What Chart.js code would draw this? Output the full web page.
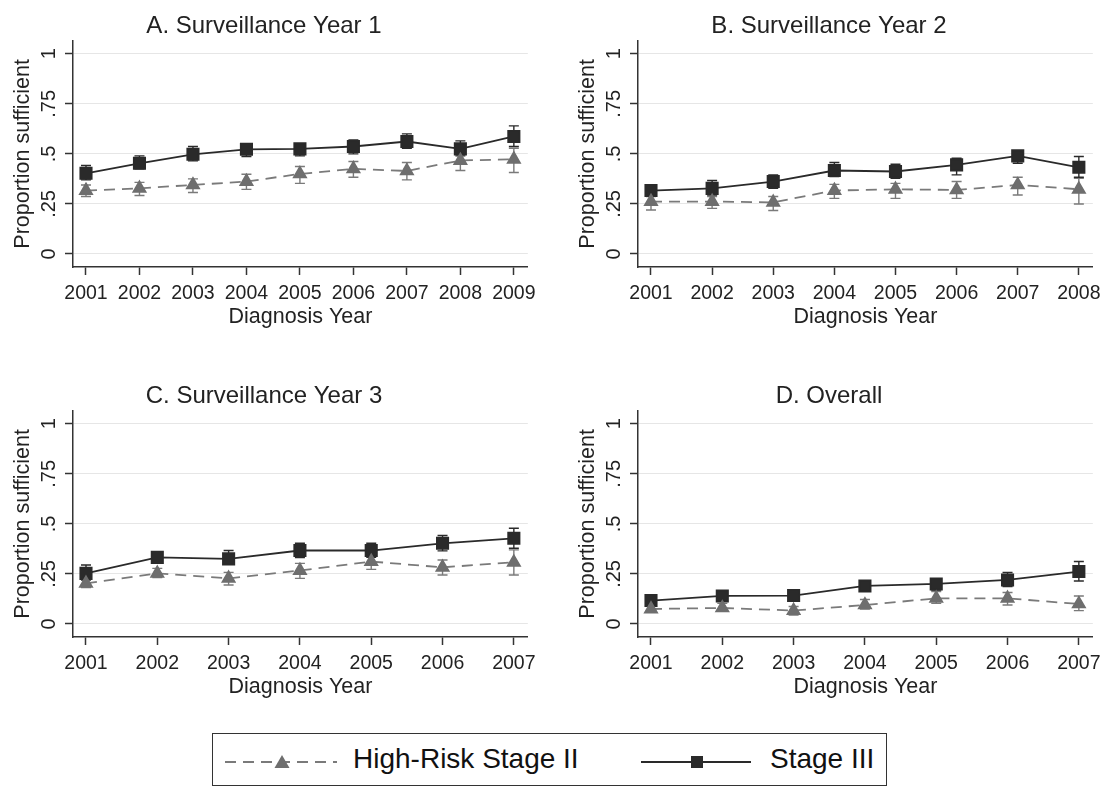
<!DOCTYPE html>
<html>
<head>
<meta charset="utf-8">
<script src="https://cdn.jsdelivr.net/npm/chart.js@4.4.0/dist/chart.umd.min.js"></script>
<style>
  body { margin: 0; background: #fff; width: 1108px; height: 786px; position: relative; overflow: hidden;
         font-family: "Liberation Sans", Arial, sans-serif; }
  canvas { position: absolute; }
  #legend { position: absolute; left: 212px; top: 733px; width: 675px; height: 53px; box-sizing: border-box;
            border: 1.5px solid #333; background: #fff; }
  #legend svg, #legend span { position: absolute; }
  #legend span { font-size: 28px; color: #111; line-height: 1; top: 11px; }
</style>
</head>
<body>
<canvas id="panelA" width="543" height="370" style="left:0;top:0"></canvas>
<canvas id="panelB" width="543" height="370" style="left:565px;top:0"></canvas>
<canvas id="panelC" width="543" height="370" style="left:0;top:370px"></canvas>
<canvas id="panelD" width="543" height="370" style="left:565px;top:370px"></canvas>
<div id="legend">
  <svg width="114" height="24" style="left:12px;top:16px">
    <line x1="0" y1="12" x2="112" y2="12" stroke="#7a7a7a" stroke-width="2" stroke-dasharray="11 7"/>
    <polygon points="57,5 64.5,18 49.5,18" fill="#6e6e6e"/>
  </svg>
  <span style="left:140px">High-Risk Stage II</span>
  <svg width="114" height="24" style="left:428px;top:16px">
    <line x1="0" y1="12" x2="110" y2="12" stroke="#2a2a2a" stroke-width="2"/>
    <rect x="50" y="6" width="12" height="12" fill="#2a2a2a"/>
  </svg>
  <span style="left:557px">Stage III</span>
</div>
<script>
// y axis ticks shared by all panels
const yTicks = [0, 0.25, 0.5, 0.75, 1];

// A. Surveillance Year 1
const yearsA = [2001, 2002, 2003, 2004, 2005, 2006, 2007, 2008, 2009];
const stage3A   = [0.403, 0.453, 0.498, 0.523, 0.525, 0.537, 0.562, 0.525, 0.587];
const stage3LoA = [0.370, 0.425, 0.465, 0.487, 0.490, 0.500, 0.528, 0.490, 0.537];
const stage3HiA = [0.442, 0.490, 0.537, 0.548, 0.548, 0.570, 0.600, 0.565, 0.640];
const highRiskA   = [0.317, 0.328, 0.345, 0.362, 0.400, 0.425, 0.415, 0.467, 0.473];
const highRiskLoA = [0.287, 0.292, 0.307, 0.323, 0.353, 0.383, 0.370, 0.417, 0.407];
const highRiskHiA = [0.345, 0.358, 0.375, 0.398, 0.437, 0.462, 0.457, 0.507, 0.528];

// B. Surveillance Year 2
const yearsB = [2001, 2002, 2003, 2004, 2005, 2006, 2007, 2008];
const stage3B   = [0.317, 0.328, 0.362, 0.417, 0.412, 0.445, 0.490, 0.433];
const stage3LoB = [0.295, 0.295, 0.328, 0.387, 0.378, 0.395, 0.453, 0.383];
const stage3HiB = [0.337, 0.367, 0.395, 0.457, 0.448, 0.478, 0.512, 0.487];
const highRiskB   = [0.262, 0.262, 0.258, 0.317, 0.323, 0.320, 0.345, 0.323];
const highRiskLoB = [0.220, 0.228, 0.217, 0.278, 0.278, 0.278, 0.295, 0.250];
const highRiskHiB = [0.287, 0.287, 0.287, 0.348, 0.353, 0.362, 0.383, 0.378];

// C. Surveillance Year 3
const yearsC = [2001, 2002, 2003, 2004, 2005, 2006, 2007];
const stage3C   = [0.253, 0.333, 0.325, 0.367, 0.367, 0.403, 0.428];
const stage3LoC = [0.220, 0.305, 0.298, 0.332, 0.333, 0.365, 0.378];
const stage3HiC = [0.295, 0.355, 0.367, 0.403, 0.403, 0.442, 0.478];
const highRiskC   = [0.203, 0.253, 0.228, 0.267, 0.312, 0.283, 0.308];
const highRiskLoC = [0.182, 0.232, 0.195, 0.228, 0.273, 0.245, 0.245];
const highRiskHiC = [0.228, 0.278, 0.258, 0.303, 0.345, 0.320, 0.370];

// D. Overall
const yearsD = [2001, 2002, 2003, 2004, 2005, 2006, 2007];
const stage3D   = [0.117, 0.140, 0.142, 0.190, 0.200, 0.220, 0.262];
const stage3LoD = [0.103, 0.117, 0.115, 0.170, 0.170, 0.187, 0.215];
const stage3HiD = [0.137, 0.157, 0.162, 0.215, 0.225, 0.257, 0.312];
const highRiskD   = [0.075, 0.080, 0.067, 0.095, 0.128, 0.128, 0.100];
const highRiskLoD = [0.058, 0.065, 0.045, 0.075, 0.103, 0.095, 0.067];
const highRiskHiD = [0.095, 0.103, 0.087, 0.122, 0.162, 0.157, 0.140];

const FONT = '"Liberation Sans", Arial, sans-serif';
const TEXT = '#222';
const AXIS = '#333';
const DARK = '#2a2a2a';
const GREY = '#7a7a7a';

// plot box inside each canvas
const PLOT_LEFT = 73, PLOT_W = 455, PAD_L = 13, PAD_R = 14;

// draws the confidence interval caps for datasets that carry lo/hi
const errorBars = {
  id: 'errorBars',
  beforeDatasetsDraw(chart) {
    const ctx = chart.ctx;
    const xs = chart.scales.x, ys = chart.scales.y;
    chart.data.datasets.forEach(ds => {
      if (!ds.lo) return;
      ctx.save();
      ctx.strokeStyle = ds.barColor;
      ctx.lineWidth = 1.4;
      ds.data.forEach((p, i) => {
        const x = xs.getPixelForValue(p.x);
        const y1 = ys.getPixelForValue(ds.lo[i]);
        const y2 = ys.getPixelForValue(ds.hi[i]);
        ctx.beginPath();
        ctx.moveTo(x, y1); ctx.lineTo(x, y2);
        ctx.moveTo(x - 5, y1); ctx.lineTo(x + 5, y1);
        ctx.moveTo(x - 5, y2); ctx.lineTo(x + 5, y2);
        ctx.stroke();
      });
      ctx.restore();
    });
  }
};

function fmtY(v) {
  if (v === 0) return '0';
  if (v === 1) return '1';
  return String(v).replace(/^0/, '');
}

function makePanel(id, title, years, s3, s3lo, s3hi, hr, hrlo, hrhi) {
  const n = years.length;
  const perPx = (years[n - 1] - years[0]) / (PLOT_W - PAD_L - PAD_R);
  const pts = vals => years.map((yr, i) => ({ x: yr, y: vals[i] }));

  return new Chart(document.getElementById(id), {
    type: 'line',
    data: {
      datasets: [
        {
          label: 'High-Risk Stage II',
          data: pts(hr), lo: hrlo, hi: hrhi, barColor: GREY,
          borderColor: GREY, borderWidth: 1.8, borderDash: [11, 7],
          pointStyle: 'triangle', pointRadius: 7, pointBackgroundColor: '#6e6e6e', pointBorderColor: '#6e6e6e',
          tension: 0
        },
        {
          label: 'Stage III',
          data: pts(s3), lo: s3lo, hi: s3hi, barColor: DARK,
          borderColor: DARK, borderWidth: 1.8,
          pointStyle: 'rect', pointRadius: 8, pointBackgroundColor: DARK, pointBorderColor: DARK,
          tension: 0
        }
      ]
    },
    options: {
      responsive: false,
      animation: false,
      devicePixelRatio: 1,
      layout: { padding: { left: 0, right: 543 - PLOT_LEFT - PLOT_W, top: 0, bottom: 0 } },
      plugins: {
        legend: { display: false },
        tooltip: { enabled: false },
        title: {
          display: true, text: title, color: TEXT,
          font: { family: FONT, size: 24, weight: 'normal' },
          padding: { top: 12, bottom: 0 }
        }
      },
      scales: {
        x: {
          type: 'linear',
          min: years[0] - PAD_L * perPx,
          max: years[n - 1] + PAD_R * perPx,
          afterBuildTicks: s => { s.ticks = years.map(v => ({ value: v })); },
          afterFit: s => { s.height = 103; },
          ticks: { callback: v => String(v), color: TEXT, font: { family: FONT, size: 19.5 },
                   padding: 7, maxRotation: 0, autoSkip: false },
          grid: { drawOnChartArea: false, drawTicks: true, tickLength: 8, tickColor: AXIS, tickWidth: 1.5 },
          border: { display: true, color: AXIS, width: 1.5 },
          title: { display: true, text: 'Diagnosis Year', color: TEXT,
                   font: { family: FONT, size: 21.5 }, padding: { top: 0, bottom: 40 } }
        },
        y: {
          min: -0.065,
          max: 1.065,
          afterBuildTicks: s => { s.ticks = yTicks.map(v => ({ value: v })); },
          afterFit: s => { s.width = PLOT_LEFT; },
          ticks: { callback: v => fmtY(v), color: TEXT, font: { family: FONT, size: 20 },
                   minRotation: 90, maxRotation: 90, crossAlign: 'center', padding: 2 },
          grid: { color: '#e6e6e6', lineWidth: 1, drawTicks: true, tickLength: 8, tickColor: AXIS, tickWidth: 1.5 },
          border: { display: true, color: AXIS, width: 1.5 },
          title: { display: true, text: 'Proportion sufficient', color: TEXT,
                   font: { family: FONT, size: 21.5 }, padding: { top: 10, bottom: 0 } }
        }
      }
    },
    plugins: [errorBars]
  });
}

makePanel('panelA', 'A. Surveillance Year 1', yearsA, stage3A, stage3LoA, stage3HiA, highRiskA, highRiskLoA, highRiskHiA);
makePanel('panelB', 'B. Surveillance Year 2', yearsB, stage3B, stage3LoB, stage3HiB, highRiskB, highRiskLoB, highRiskHiB);
makePanel('panelC', 'C. Surveillance Year 3', yearsC, stage3C, stage3LoC, stage3HiC, highRiskC, highRiskLoC, highRiskHiC);
makePanel('panelD', 'D. Overall', yearsD, stage3D, stage3LoD, stage3HiD, highRiskD, highRiskLoD, highRiskHiD);
</script>
</body>
</html>
